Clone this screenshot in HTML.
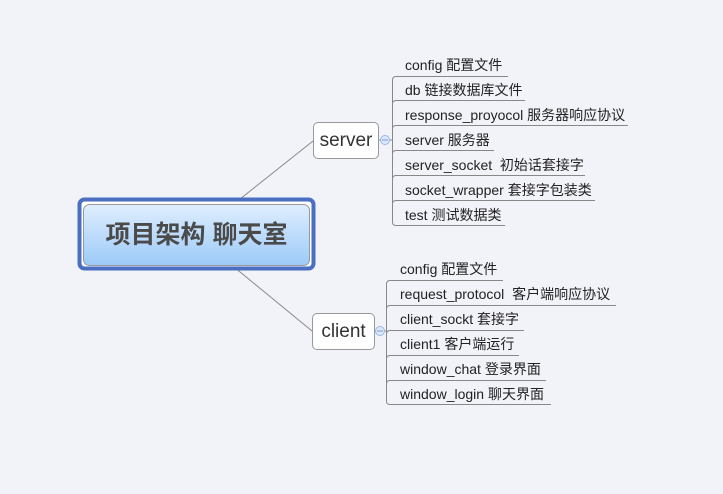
<!DOCTYPE html>
<html><head><meta charset="utf-8"><style>
body{margin:0;width:723px;height:494px;background:#f2f3f9;position:relative;overflow:hidden;font-family:"Liberation Sans","Noto Sans CJK SC",sans-serif;}
.t{position:absolute;font-size:14px;color:#222;white-space:nowrap;line-height:16px;}
.box{position:absolute;background:#fff;border:1px solid #999;border-radius:5px;font-size:19px;color:#333;text-align:center;box-sizing:border-box;}
</style></head><body>
<svg width="723" height="494" style="position:absolute;left:0;top:0">
<g stroke="#888" stroke-width="1" fill="none">
<line x1="235" y1="203" x2="313" y2="141"/>
<line x1="234" y1="267" x2="312" y2="331"/>
<line x1="378" y1="140" x2="392" y2="140"/>
<line x1="374" y1="331" x2="386" y2="331"/>
<path d="M392.5 80 Q392.5 76.5 396 76.5 H508"/>
<path d="M392.5 80 V222 Q392.5 225.5 396 225.5 H505"/>
<path d="M392.5 104 Q392.5 100.5 396 100.5 H525"/>
<path d="M392.5 129 Q392.5 125.5 396 125.5 H628"/>
<path d="M392.5 154 Q392.5 150.5 396 150.5 H494"/>
<path d="M392.5 179 Q392.5 175.5 396 175.5 H585"/>
<path d="M392.5 204 Q392.5 200.5 396 200.5 H595"/>
<path d="M386.5 284 Q386.5 280.5 390 280.5 H503"/>
<path d="M386.5 284 V401 Q386.5 404.5 390 404.5 H551"/>
<path d="M386.5 309 Q386.5 305.5 390 305.5 H616"/>
<path d="M386.5 334 Q386.5 330.5 390 330.5 H524"/>
<path d="M386.5 359 Q386.5 355.5 390 355.5 H519"/>
<path d="M386.5 384 Q386.5 380.5 390 380.5 H546"/>
</g>
<circle cx="385" cy="140" r="4.5" fill="#dce8fb" stroke="#9bb8e8"/>
<line x1="382" y1="140" x2="388" y2="140" stroke="#7a9ad6"/>
<circle cx="380" cy="331" r="4.5" fill="#dce8fb" stroke="#9bb8e8"/>
<line x1="377" y1="331" x2="383" y2="331" stroke="#7a9ad6"/>
<defs><linearGradient id="g" x1="0" y1="0" x2="0" y2="1"><stop offset="0" stop-color="#dfeefe"/><stop offset="1" stop-color="#9ccaf8"/></linearGradient></defs>
<rect x="79.5" y="199.5" width="234" height="69" rx="5" fill="#fff" stroke="#4a6ec2" stroke-width="4"/>
<rect x="83.5" y="204.5" width="226" height="61" rx="6" fill="url(#g)" stroke="#999"/>
</svg>
<div style="position:absolute;left:83px;top:220px;width:227px;text-align:center;font-size:25px;font-weight:bold;color:#4a4a4a;line-height:30px;">项目架构 聊天室</div>
<div class="box" style="left:313px;top:122px;width:66px;height:37px;line-height:35px;">server</div>
<div class="box" style="left:312px;top:313px;width:63px;height:37px;line-height:35px;">client</div>
<div class="t" style="left:405px;top:57px">config 配置文件</div>
<div class="t" style="left:405px;top:82px">db 链接数据库文件</div>
<div class="t" style="left:405px;top:107px">response_proyocol 服务器响应协议</div>
<div class="t" style="left:405px;top:132px">server 服务器</div>
<div class="t" style="left:405px;top:157px">server_socket&nbsp; 初始话套接字</div>
<div class="t" style="left:405px;top:182px">socket_wrapper 套接字包装类</div>
<div class="t" style="left:405px;top:207px">test 测试数据类</div>
<div class="t" style="left:400px;top:261px">config 配置文件</div>
<div class="t" style="left:400px;top:286px">request_protocol&nbsp; 客户端响应协议</div>
<div class="t" style="left:400px;top:311px">client_sockt 套接字</div>
<div class="t" style="left:400px;top:336px">client1 客户端运行</div>
<div class="t" style="left:400px;top:361px">window_chat 登录界面</div>
<div class="t" style="left:400px;top:386px">window_login 聊天界面</div>
</body></html>
